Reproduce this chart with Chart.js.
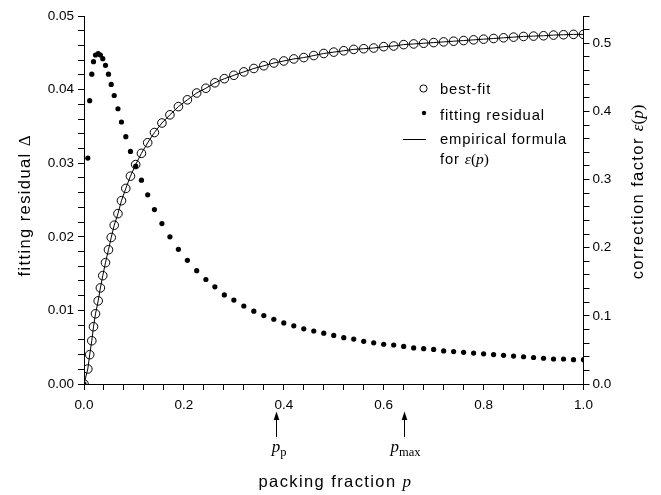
<!DOCTYPE html>
<html><head><meta charset="utf-8">
<script src="https://cdn.jsdelivr.net/npm/chart.js@4.4.0/dist/chart.umd.min.js"></script>
<style>html,body{margin:0;padding:0;background:#fff}</style>
</head><body>
<canvas id="c" width="661" height="495"></canvas>
<script>
// packing fraction p (same grid for both series)
const pFrac=[0,0.0076,0.0114,0.0156,0.019,0.023,0.0284,0.0328,0.0376,0.043,0.049,0.0545,0.0605,0.068,0.075,0.0837,0.093,0.1035,0.115,0.1275,0.141,0.156,0.172,0.189,0.207,0.2256,0.244,0.262,0.281,
  0.30,0.32,0.34,0.36,0.38,0.40,0.42,0.44,0.46,0.48,0.50,0.52,0.54,0.56,0.58,0.60,0.62,0.64,0.66,0.68,0.70,0.72,0.74,0.76,0.78,0.80,0.82,0.84,0.86,0.88,0.90,0.92,0.94,0.96,0.98,1.00];
// fitting residual Δ (left axis)
const residual=[0,0.0307,0.0385,0.0421,0.0438,0.0447,0.0449,0.0447,0.0442,0.0433,0.0421,0.0407,0.0392,0.0374,0.0356,0.0336,0.0316,0.0296,0.0277,0.0257,0.0237,0.0218,0.0200,0.0183,0.0168,0.0154,0.0142,0.0132,0.0121,
  0.0114,0.0106,0.0099,0.0093,0.0088,0.0083,0.0079,0.0075,0.0072,0.0069,0.0066,0.0063,0.0061,0.0058,0.0056,0.0054,0.0053,0.0051,0.0049,0.0048,0.0047,0.0045,0.0044,0.0043,0.0042,0.0041,0.0040,0.0039,0.0038,0.0037,0.0036,0.0035,0.0034,0.0034,0.0033,0.0033];
// best-fit correction factor ε(p) (right axis)
const bestFit=[0,0.022,0.043,0.0635,0.084,0.103,0.122,0.141,0.159,0.178,0.197,0.215,0.233,0.250,0.269,0.287,0.305,0.322,0.3385,0.354,0.369,0.383,0.395,0.407,0.417,0.427,0.434,0.442,0.448,
  0.453,0.458,0.463,0.467,0.471,0.474,0.477,0.479,0.482,0.485,0.487,0.489,0.491,0.492,0.493,0.495,0.496,0.498,0.499,0.500,0.501,0.502,0.503,0.504,0.505,0.506,0.507,0.508,0.509,0.510,0.5105,0.511,0.512,0.5125,0.513,0.513];
// marked packing fractions under the x axis
const markP=[0.384,0.641];
const markSub=['p','max'];

const SANS='"Liberation Sans", Arial, sans-serif';
const SERIF='"Liberation Serif", "Times New Roman", serif';

function pts(ys){return pFrac.map((p,i)=>({x:p,y:ys[i]}));}

// draw a row of text pieces with mixed fonts, centred on x (or left aligned)
function runs(ctx,list,x,y,align){
  let w=0;
  list.forEach(r=>{ctx.font=r.f;ctx.letterSpacing=(r.ls||0)+'px';r.w=ctx.measureText(r.t).width;w+=r.w;});
  let cx=align==='left'?x:x-w/2;
  list.forEach(r=>{ctx.font=r.f;ctx.letterSpacing=(r.ls||0)+'px';ctx.fillText(r.t,cx,y+(r.dy||0));cx+=r.w;});
  ctx.letterSpacing='0px';
}

const extras={
  id:'extras',
  afterDraw(chart){
    const ctx=chart.ctx,a=chart.chartArea,xs=chart.scales.x;
    ctx.save();
    ctx.fillStyle='#000';ctx.strokeStyle='#000';ctx.textBaseline='alphabetic';ctx.textAlign='left';
    const tf='16.5px '+SANS, mi='italic 17px '+SERIF, mr='17px '+SERIF;
    // x title
    runs(ctx,[{t:'packing fraction ',f:tf,ls:1.4},{t:'p',f:mi}],(a.left+a.right)/2+1,487);
    // left title
    ctx.save();ctx.translate(30,(a.top+a.bottom)/2+6);ctx.rotate(-Math.PI/2);
    runs(ctx,[{t:'fitting residual ',f:tf,ls:1.4},{t:'Δ',f:mr}],0,0);
    ctx.restore();
    // right title
    ctx.save();ctx.translate(643,(a.top+a.bottom)/2-8);ctx.rotate(-Math.PI/2);
    runs(ctx,[{t:'correction factor ',f:tf,ls:1.4},{t:'ε',f:mi},{t:'(',f:mr},{t:'p',f:mi},{t:')',f:mr}],0,0);
    ctx.restore();
    // arrows + labels
    ctx.lineWidth=1;
    markP.forEach((v,i)=>{
      const x=Math.round(xs.getPixelForValue(v))+0.5;
      ctx.beginPath();ctx.moveTo(x,437);ctx.lineTo(x,419);ctx.stroke();
      ctx.beginPath();ctx.moveTo(x,411.5);ctx.lineTo(x-2.8,420);ctx.lineTo(x+2.8,420);ctx.closePath();ctx.fill();
      runs(ctx,[{t:'p',f:'italic 17px '+SERIF},{t:markSub[i],f:'12.5px '+SERIF,dy:3.5}],x+(i?1:2.5),452);
    });
    // legend
    const lf='14.8px '+SANS;
    ctx.lineWidth=1;
    ctx.beginPath();ctx.arc(423.5,88.5,3.6,0,Math.PI*2);ctx.stroke();
    ctx.beginPath();ctx.arc(424,113,2.2,0,Math.PI*2);ctx.fill();
    ctx.beginPath();ctx.moveTo(403,139.5);ctx.lineTo(426,139.5);ctx.stroke();
    runs(ctx,[{t:'best-fit',f:lf,ls:0.85}],440,93.5,'left');
    runs(ctx,[{t:'fitting residual',f:lf,ls:0.85}],440,119.5,'left');
    runs(ctx,[{t:'empirical formula',f:lf,ls:0.85}],440,143.5,'left');
    runs(ctx,[{t:'for ',f:lf,ls:0.85},{t:'ε',f:'italic 15.5px '+SERIF},{t:'(',f:'15.5px '+SERIF},{t:'p',f:'italic 15.5px '+SERIF},{t:')',f:'15.5px '+SERIF}],440,163.5,'left');
    ctx.restore();
  }
};

const axisBase={
  border:{display:true,color:'#000',width:1},
  grid:{drawOnChartArea:false,drawTicks:true,tickLength:6,tickColor:'#000',tickWidth:1}
};

new Chart(document.getElementById('c'),{
  type:'scatter',
  data:{datasets:[
    {label:'fitting residual',data:pts(residual),yAxisID:'y',pointRadius:2.6,pointBackgroundColor:'#000',pointBorderWidth:0,showLine:false},
    {label:'best-fit',data:pts(bestFit),yAxisID:'y2',pointRadius:4.3,pointBackgroundColor:'rgba(0,0,0,0)',pointBorderColor:'#000',pointBorderWidth:1,showLine:false},
    {label:'empirical formula',data:pts(bestFit),yAxisID:'y2',pointRadius:0,showLine:true,borderColor:'#000',borderWidth:1,tension:0}
  ]},
  options:{
    responsive:false,animation:false,devicePixelRatio:1,
    layout:{padding:{top:16,left:0,right:0,bottom:0}},
    plugins:{legend:{display:false},tooltip:{enabled:false}},
    scales:{
      x:{...axisBase,type:'linear',min:0,max:1,
        ticks:{stepSize:0.04,autoSkip:false,maxRotation:0,padding:7,color:'#000',font:{family:SANS,size:13.5},
          callback:v=>Math.round(v*100)%20===0?v.toFixed(1):''},
        afterFit(s){s.height=111;}},
      y:{...axisBase,type:'linear',position:'left',min:0,max:0.05,
        ticks:{stepSize:0.002,autoSkip:false,padding:4,color:'#000',font:{family:SANS,size:13.5},
          callback:v=>Math.round(v*1000)%10===0?v.toFixed(2):''},
        afterFit(s){s.width=84;}},
      y2:{...axisBase,type:'linear',position:'right',min:0,max:0.54,
        ticks:{stepSize:0.02,autoSkip:false,padding:3,color:'#000',font:{family:SANS,size:13.5},
          callback:v=>Math.round(v*100)%10===0?v.toFixed(1):''},
        afterFit(s){s.width=77.5;}}
    }
  },
  plugins:[extras]
});
</script>
</body></html>
